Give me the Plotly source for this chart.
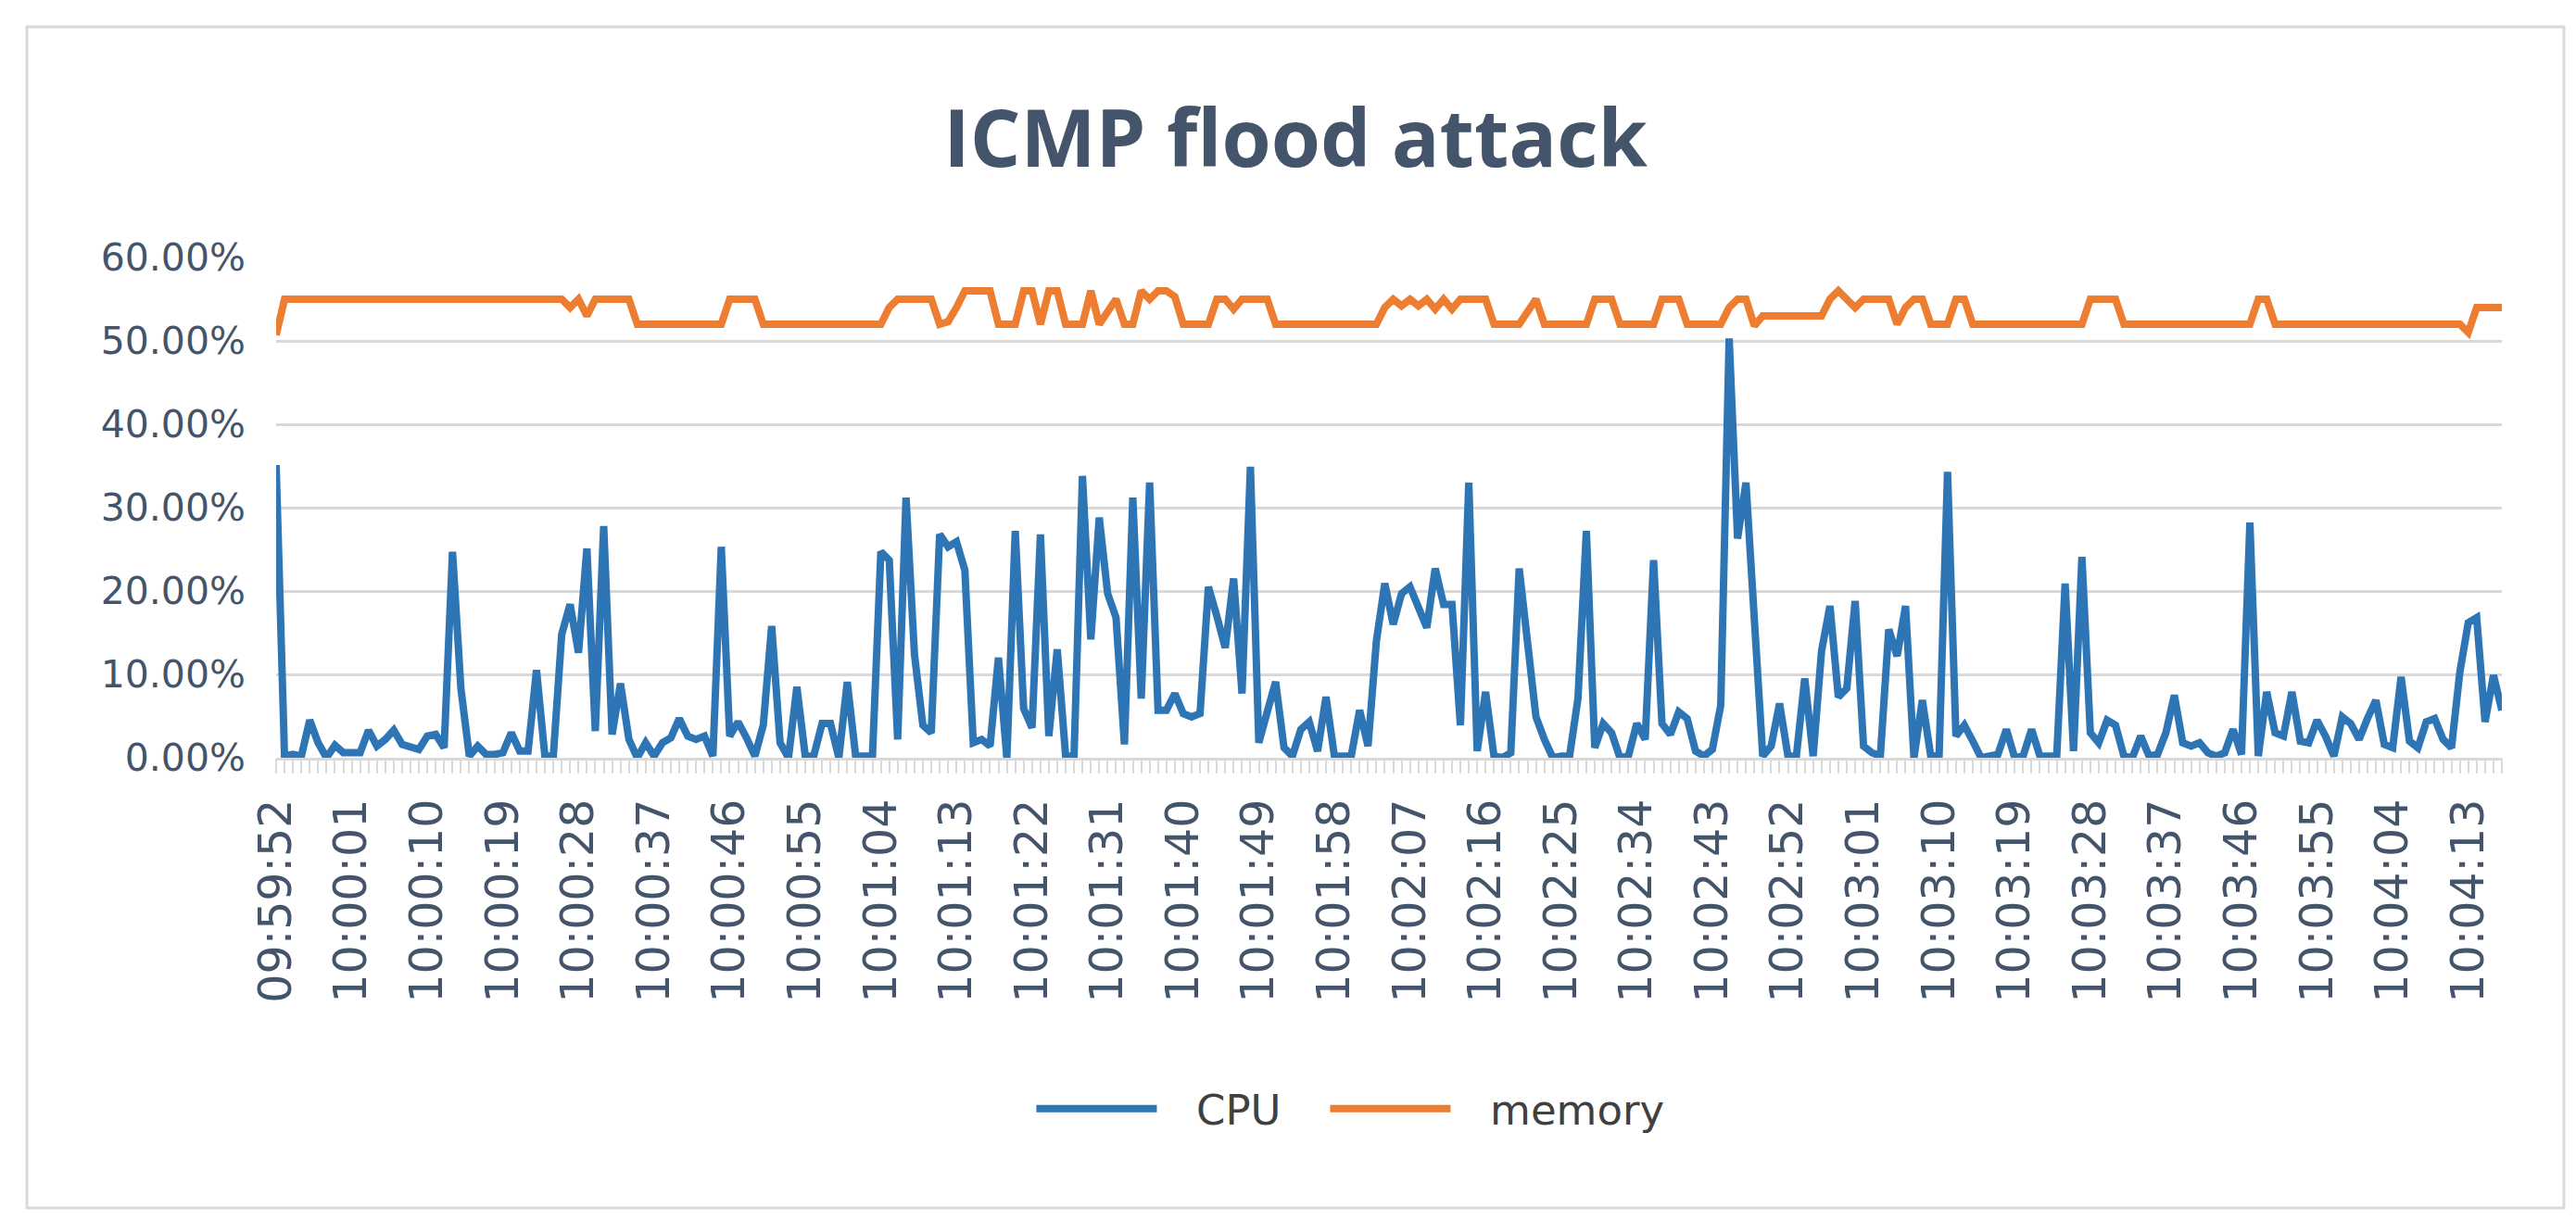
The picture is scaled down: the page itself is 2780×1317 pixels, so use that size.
import datetime as dt
import plotly.graph_objects as go

# ---- data ----
start = dt.datetime(2020, 1, 1, 9, 59, 52)
times = [(start + dt.timedelta(seconds=i)).strftime("%H:%M:%S") for i in range(266)]

cpu = [
    35.1, 0.2, 0.4, 0.2, 4.5, 1.8, 0.0, 1.5, 0.6, 0.6,
    0.6, 3.3, 1.4, 2.2, 3.3, 1.6, 1.4, 1.0, 2.6, 2.8,
    1.2, 24.7, 8.3, 0.2, 1.4, 0.4, 0.4, 0.6, 3.0, 0.8,
    0.8, 10.5, 0.2, 0.2, 14.8, 18.4, 12.6, 25.1, 3.2, 27.8,
    2.8, 8.9, 2.2, 0.0, 1.8, 0.2, 1.8, 2.4, 4.7, 2.6,
    2.2, 2.6, 0.2, 25.3, 2.6, 4.3, 2.4, 0.2, 3.9, 15.8,
    1.8, 0.0, 8.5, 0.2, 0.2, 4.1, 4.1, 0.0, 9.1, 0.2,
    0.2, 0.2, 24.7, 23.7, 2.2, 31.2, 12.4, 3.9, 3.0, 26.8,
    25.3, 25.9, 22.5, 1.8, 2.2, 1.4, 12.0, 0.0, 27.2, 5.9,
    3.6, 26.8, 2.6, 13.0, 0.2, 0.2, 33.8, 14.2, 28.8, 19.7,
    16.8, 1.6, 31.2, 7.1, 33.0, 5.7, 5.7, 7.7, 5.3, 4.9,
    5.3, 20.5, 17.0, 13.2, 21.5, 7.7, 34.9, 1.8, 5.5, 9.1,
    1.2, 0.2, 3.4, 4.3, 0.8, 7.3, 0.2, 0.2, 0.2, 5.7,
    1.4, 14.0, 20.9, 16.0, 19.7, 20.5, 18.0, 15.6, 22.7, 18.4,
    18.4, 3.9, 33.0, 0.8, 7.9, 0.2, 0.0, 0.6, 22.7, 13.2,
    4.9, 2.2, 0.0, 0.2, 0.2, 7.1, 27.2, 1.2, 4.1, 3.0,
    0.0, 0.2, 4.1, 2.2, 23.7, 4.1, 2.8, 5.5, 4.7, 0.8,
    0.2, 1.0, 6.3, 50.3, 26.3, 33.0, 16.0, 0.2, 1.4, 6.5,
    0.2, 0.2, 9.5, 0.2, 12.8, 18.2, 7.3, 8.3, 18.8, 1.4,
    0.6, 0.2, 15.4, 12.2, 18.2, 0.0, 6.9, 0.2, 0.4, 34.3,
    2.6, 3.9, 2.0, 0.0, 0.2, 0.4, 3.4, 0.0, 0.2, 3.4,
    0.2, 0.2, 0.2, 20.9, 0.8, 24.1, 3.0, 1.8, 4.5, 3.9,
    0.2, 0.0, 2.6, 0.2, 0.4, 3.0, 7.5, 1.8, 1.4, 1.8,
    0.6, 0.2, 0.6, 3.4, 0.4, 28.2, 0.2, 7.9, 3.0, 2.6,
    7.9, 2.0, 1.8, 4.5, 2.6, 0.2, 4.9, 4.1, 2.2, 4.7,
    6.9, 1.6, 1.2, 9.7, 2.0, 1.2, 4.3, 4.7, 2.2, 1.2,
    10.3, 16.2, 16.8, 4.3, 9.9, 5.7,
]

memory = (
    [50.7] + [55] * 34 + [54, 55, 53] + [55] * 5 + [52] * 11 + [55] * 4
    + [52] * 15 + [54] + [55] * 5 + [52, 52.3, 54] + [56] * 4 + [52] * 3
    + [56] * 2 + [52] + [56] * 2 + [52] * 3 + [56, 52, 53.5, 55, 52, 52]
    + [56, 55, 56, 56, 55.3] + [52] * 4 + [55, 55, 53.8] + [55] * 4
    + [52] * 13 + [54, 55, 54.2, 55, 54.2, 55, 53.8, 55, 53.8]
    + [55] * 4 + [52] * 4 + [53.5, 55] + [52] * 6 + [55] * 3 + [52] * 5
    + [55] * 3 + [52] * 5 + [54, 55, 55, 51.8] + [53] * 8
    + [55, 56, 55, 54] + [55] * 4 + [52, 54, 55, 55] + [52] * 3 + [55] * 2
    + [52] * 14 + [55] * 4 + [52] * 16 + [55] * 2 + [52] * 23 + [51] + [54] * 4
)

tick_labels = times[::9]
y_ticks = [0, 10, 20, 30, 40, 50, 60]

TXT = "#44546A"
GRID = "#D9D9D9"
FONT = "DejaVu Sans"
NB = "\u00a0"
GAP = NB * 2 + "\u2009"

fig = go.Figure()
fig.add_trace(go.Scatter(x=times, y=cpu, name=GAP + "CPU" + NB * 3, mode="lines",
                         line=dict(color="#2E75B6", width=8)))
fig.add_trace(go.Scatter(x=times, y=memory, name=GAP + "memory", mode="lines",
                         line=dict(color="#ED7D31", width=8)))
# invisible trace on xaxis2 to carry per-category tick marks
fig.add_trace(go.Scatter(x=times, y=cpu, xaxis="x2", mode="lines",
                         line=dict(width=0), opacity=0, showlegend=False,
                         hoverinfo="skip"))

W, H = 2780, 1317
L, R, T, B = 290, 88, 270, 507

fig.update_layout(
    width=W, height=H,
    margin=dict(l=L, r=R, t=T, b=B),
    paper_bgcolor="white", plot_bgcolor="white",
    font=dict(family=FONT, size=45, color=TXT),
    title=dict(text="<b>ICMP flood attack</b>", x=0.5, xanchor="center",
               y=1 - 142 / H, yanchor="middle",
               font=dict(family="Open Sans", size=86, color=TXT)),
    xaxis=dict(type="category", categoryorder="array", categoryarray=times,
               range=[0, len(times) - 1], tickmode="array",
               tickvals=tick_labels, ticktext=tick_labels, tickangle=-90,
               ticks="", showgrid=False, showline=True, linecolor=GRID,
               linewidth=3, zeroline=False, ticklabelstandoff=22,
               tickfont=dict(family=FONT, size=49, color=TXT)),
    xaxis2=dict(type="category", categoryorder="array", categoryarray=times,
                range=[0, len(times) - 1], overlaying="x", anchor="y",
                side="bottom", tickmode="linear", tick0=0, dtick=1,
                ticks="outside", ticklen=16, tickwidth=2, tickcolor=GRID,
                showticklabels=False, showgrid=False, showline=False,
                zeroline=False),
    yaxis=dict(range=[0, 60], tickmode="array", tickvals=y_ticks,
               ticktext=[f"{v:.2f}%" for v in y_ticks],
               showgrid=True, gridcolor=GRID, gridwidth=3, zeroline=False,
               showline=False, ticks="", ticklabelstandoff=32,
               tickfont=dict(family=FONT, size=41, color=TXT)),
    legend=dict(orientation="h", x=0.4827, xanchor="center",
                y=-(1189 - (H - B)) / (H - T - B), yanchor="middle",
                font=dict(family=FONT, size=45, color="#404040"),
                itemwidth=130, bgcolor="rgba(0,0,0,0)"),
    showlegend=True,
)

# outer chart border
pw = W - L - R
ph = H - T - B
inset = 21
fig.add_shape(type="rect", xref="paper", yref="paper",
              x0=(inset - L) / pw, x1=(W - inset - L) / pw,
              y0=-((H - inset) - (H - B)) / ph, y1=((H - B) - inset) / ph,
              line=dict(color=GRID, width=3), layer="below")

fig.write_html("out.html")
